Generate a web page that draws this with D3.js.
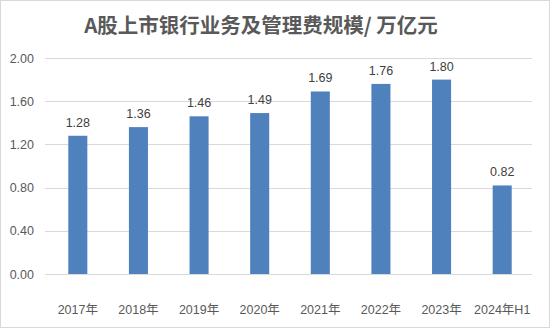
<!DOCTYPE html>
<html><head><meta charset="utf-8">
<script src="https://cdn.jsdelivr.net/npm/d3@7"></script>
<style>body{margin:0;background:#fff}svg{display:block}</style>
</head><body>
<script>
const categories = ["2017年","2018年","2019年","2020年","2021年","2022年","2023年","2024年H1"];
const values = [1.28,1.36,1.46,1.49,1.69,1.76,1.80,0.82];
const yTicks = [0,0.4,0.8,1.2,1.6,2.0];
const title = "A股上市银行业务及管理费规模/ 万亿元";

const W=550,H=329;
const svg=d3.select("body").append("svg").attr("width",W).attr("height",H);
svg.append("rect").attr("x",0.5).attr("y",0.5).attr("width",W-1).attr("height",H-2)
  .attr("fill","#fff").attr("stroke","#d9d9d9");
const font="'Noto Sans CJK SC','Noto Sans',sans-serif";
svg.append("text").attr("x",261).attr("y",33).attr("text-anchor","middle")
  .attr("font-family",font).attr("font-weight","bold").attr("font-size",20.5)
  .attr("fill","#595959").text(title);

const x=d3.scaleBand().domain(categories).range([47.5,532.5]).paddingInner(0.686).paddingOuter(0.343);
const y=d3.scaleLinear().domain([0,2]).range([274,58]);

const grid=svg.append("g");
grid.selectAll("line").data(yTicks).join("line")
  .attr("x1",45).attr("x2",532).attr("y1",d=>Math.round(y(d))+0.5).attr("y2",d=>Math.round(y(d))+0.5)
  .attr("stroke","#d9d9d9").attr("stroke-width",1);

const yAxis=d3.axisLeft(y).tickValues(yTicks).tickFormat(d3.format(".2f")).tickSize(0).tickPadding(0);
const ya=svg.append("g").attr("transform","translate(34,0)").call(yAxis);
ya.select(".domain").remove();
ya.selectAll("text").attr("font-family","'Liberation Sans','Noto Sans',sans-serif").attr("font-size",12.5).attr("fill","#595959");

svg.append("g").selectAll("rect").data(values).join("rect")
  .attr("x",(d,i)=>x(categories[i])).attr("width",x.bandwidth())
  .attr("y",d=>y(d)).attr("height",d=>y(0)-y(d)).attr("fill","#4f81bd");

svg.append("g").selectAll("text").data(values).join("text")
  .attr("x",(d,i)=>x(categories[i])+x.bandwidth()/2).attr("y",d=>y(d)-9)
  .attr("text-anchor","middle").attr("font-family","'Liberation Sans','Noto Sans',sans-serif")
  .attr("font-size",12.5).attr("fill","#404040").text(d=>d.toFixed(2));

const xAxis=d3.axisBottom(x).tickSize(0).tickPadding(0);
const xa=svg.append("g").attr("transform","translate(0,305)").call(xAxis);
xa.select(".domain").remove();
xa.selectAll("text").attr("font-family","'Liberation Sans','Noto Sans CJK SC',sans-serif").attr("font-size",12.5).attr("fill","#595959");
</script>
</body></html>
